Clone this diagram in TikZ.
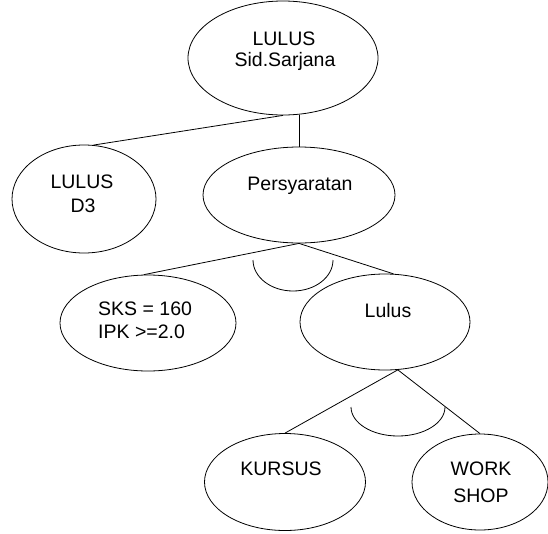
\documentclass[tikz,border=0pt]{standalone}
\usepackage{fontspec}
\setmainfont{Liberation Sans}
\usetikzlibrary{shapes.geometric,calc}
\begin{document}
\begin{tikzpicture}[x=1pt,y=-1pt,
  ell/.style={draw, ellipse, inner sep=0pt, line width=0.8pt},
  txt/.style={inner sep=0pt, font=\fontsize{19.5}{23}\selectfont, anchor=base},
  conn/.style={line width=0.8pt}]
\useasboundingbox (0,0) rectangle (548,533);
% ellipses
\node[ell, minimum width=190pt, minimum height=114pt] (top) at (283,58) {};
\node[ell, minimum width=144pt, minimum height=108pt] (d3) at (84,199) {};
\node[ell, minimum width=192pt, minimum height=96pt] (pers) at (299,195) {};
\node[ell, minimum width=176pt, minimum height=96pt] (sks) at (148,323) {};
\node[ell, minimum width=170pt, minimum height=96pt] (lulus) at (385,322) {};
\node[ell, minimum width=161pt, minimum height=97pt] (kursus) at (285,482) {};
\node[ell, minimum width=136pt, minimum height=96pt] (work) at (480,482) {};
% texts
\node[txt] (t1) at (284,45) {LULUS};
\node[txt] (t2) at (285,66) {Sid.Sarjana};
\node[txt] (t3) at (82,188) {LULUS};
\node[txt] (t4) at (83,212) {D3};
\node[txt] (t5) at (300,190) {Persyaratan};
\node[txt, anchor=base west] (t6) at (98,315) {SKS = 160};
\node[txt, anchor=base west] (t7) at (98,338) {IPK >=2.0};
\node[txt] (t8) at (388,317) {Lulus};
\node[txt] (t9) at (281,475) {KURSUS};
\node[txt] (t10) at (481,475) {WORK};
\node[txt] (t11) at (481,502) {SHOP};
% connectors
\draw[conn] (top.south) -- (d3.80);
\draw[conn] (pers.north) -- (pers.north |- top.south);
\draw[conn] (pers.south) -- (sks.95);
\draw[conn] (pers.south) -- (lulus.80);
\draw[conn] (lulus.-75) -- (kursus.north);
\draw[conn] (lulus.-75) -- (work.north);
% AND arcs
\draw[conn] (253,260) arc[start angle=180, end angle=0, x radius=40, y radius=31];
\draw[conn] (351,407) arc[start angle=180, end angle=0, x radius=47, y radius=29];
\end{tikzpicture}
\end{document}
